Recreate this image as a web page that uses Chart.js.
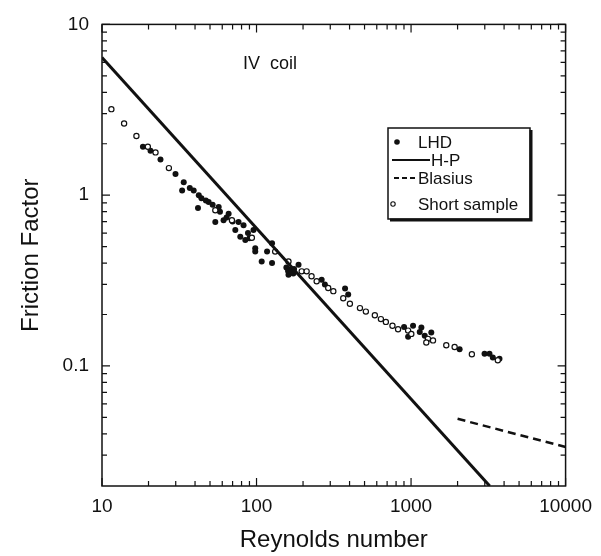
<!DOCTYPE html>
<html>
<head>
<meta charset="utf-8">
<script src="https://cdn.jsdelivr.net/npm/chart.js@4.4.0/dist/chart.umd.min.js"></script>
<style>
    html, body { margin: 0; padding: 0; background: #fff; }
    #wrap { width: 601px; height: 556px; }
</style>
</head>
<body>
<div id="wrap"><canvas id="chart" width="601" height="556"></canvas></div>
<script>
// data
const xTickLabels = [10, 100, 1000, 10000];
const yTickLabels = [0.1, 1, 10];

const lhdRe = [18.4, 20.6, 23.9, 29.9, 33.8, 33.0, 39.2, 42.3, 41.8, 49.0, 56.9, 54.1, 66.0, 61.2,
    76.5, 82.4, 72.9, 78.5, 95.6, 84.6, 98.1, 98.1, 117, 126, 108, 126, 165, 161, 187, 156, 173,
    264, 277, 374, 392, 901, 1030, 957, 1166, 1138, 1226, 1352, 2062, 2989, 3218, 3381, 3735,
    37, 44, 47, 52, 58, 64, 70, 88, 90, 160, 168, 175];
const lhdF = [1.92, 1.82, 1.62, 1.33, 1.19, 1.065, 1.065, 1.0, 0.841, 0.911, 0.852, 0.697, 0.779, 0.713,
    0.697, 0.667, 0.624, 0.571, 0.624, 0.546, 0.488, 0.467, 0.467, 0.522, 0.409, 0.400, 0.366, 0.342, 0.391, 0.377, 0.348,
    0.320, 0.300, 0.284, 0.262, 0.169, 0.172, 0.148, 0.168, 0.158, 0.150, 0.157, 0.125, 0.118, 0.118, 0.112, 0.110,
    1.10, 0.96, 0.93, 0.88, 0.80, 0.74, 0.70, 0.60, 0.56, 0.36, 0.355, 0.37];

const shortRe = [11.5, 13.9, 16.7, 19.8, 22.2, 27.1, 54.1, 69.3, 93.3, 132, 161, 196, 211, 227, 245,
    291, 314, 364, 402, 467, 510, 583, 638, 687, 758, 824, 957, 1004, 1287, 1387, 1255, 1690, 1914, 2475, 3642];
const shortF = [3.19, 2.63, 2.22, 1.92, 1.78, 1.44, 0.815, 0.713, 0.563, 0.467, 0.409, 0.358, 0.358, 0.335, 0.313,
    0.286, 0.274, 0.249, 0.231, 0.218, 0.208, 0.198, 0.188, 0.181, 0.172, 0.164, 0.161, 0.154, 0.144, 0.141, 0.137, 0.132, 0.129, 0.117, 0.108];

const hpRe = [10, 3230];
const hpF = [6.4, 0.0198];
const blasiusRe = [2000, 10000];
const blasiusF = [0.049, 0.0335];

const FONT = "'Liberation Sans', Arial, Helvetica, sans-serif";
const INK = '#111';

function pts(xs, ys) {
    return xs.map((x, i) => ({ x: x, y: ys[i] }));
}

function isPow10(v) {
    const e = Math.log10(v);
    return Math.abs(e - Math.round(e)) < 1e-6;
}

function tickLabel(list) {
    return function (value) {
        const v = Number(Number(value).toPrecision(6));
        return list.some(t => Math.abs(t - v) < 1e-9 * t) ? String(v) : '';
    };
}

// frame, inward ticks on all four sides, legend box and note
const decor = {
    id: 'decor',
    afterDraw(chart) {
        const { ctx, chartArea: a, scales } = chart;
        ctx.save();
        ctx.strokeStyle = INK;
        ctx.lineWidth = 1.5;
        ctx.strokeRect(a.left, a.top, a.right - a.left, a.bottom - a.top);

        ctx.lineWidth = 1.2;
        ctx.beginPath();
        scales.x.ticks.forEach(t => {
            const e = Math.floor(Math.log10(t.value) + 1e-9);
            const sig = t.value / Math.pow(10, e);
            if (Math.abs(sig - Math.round(sig)) > 1e-6) return;
            const px = scales.x.getPixelForValue(t.value);
            if (px < a.left - 0.5 || px > a.right + 0.5) return;
            const len = isPow10(t.value) ? 8 : 5;
            ctx.moveTo(px, a.bottom); ctx.lineTo(px, a.bottom - len);
            ctx.moveTo(px, a.top); ctx.lineTo(px, a.top + len);
        });
        scales.y.ticks.forEach(t => {
            const e = Math.floor(Math.log10(t.value) + 1e-9);
            const sig = t.value / Math.pow(10, e);
            if (Math.abs(sig - Math.round(sig)) > 1e-6) return;
            const py = scales.y.getPixelForValue(t.value);
            if (py < a.top - 0.5 || py > a.bottom + 0.5) return;
            const len = isPow10(t.value) ? 8 : 5;
            ctx.moveTo(a.left, py); ctx.lineTo(a.left + len, py);
            ctx.moveTo(a.right, py); ctx.lineTo(a.right - len, py);
        });
        ctx.stroke();

        // note
        ctx.fillStyle = INK;
        ctx.font = '18px ' + FONT;
        ctx.textAlign = 'center';
        ctx.textBaseline = 'middle';
        ctx.fillText('IV  coil', 270, 64);

        // legend
        const bx = 388, by = 128, bw = 142, bh = 91;
        ctx.fillStyle = '#fff';
        ctx.fillRect(bx, by, bw, bh);
        ctx.lineWidth = 1.5;
        ctx.strokeRect(bx, by, bw, bh);
        ctx.lineWidth = 3;
        ctx.beginPath();
        ctx.moveTo(bx + 2, by + bh + 1);
        ctx.lineTo(bx + bw + 1, by + bh + 1);
        ctx.lineTo(bx + bw + 1, by + 2);
        ctx.stroke();

        ctx.font = '17px ' + FONT;
        ctx.textAlign = 'left';
        ctx.fillStyle = INK;
        // LHD
        ctx.beginPath();
        ctx.arc(397, 142, 2.8, 0, Math.PI * 2);
        ctx.fill();
        ctx.fillText('LHD', 418, 143);
        // H-P
        ctx.lineWidth = 2;
        ctx.setLineDash([]);
        ctx.beginPath();
        ctx.moveTo(392, 160); ctx.lineTo(430, 160);
        ctx.stroke();
        ctx.fillText('H-P', 431, 161);
        // Blasius
        ctx.setLineDash([5, 3]);
        ctx.beginPath();
        ctx.moveTo(394, 178); ctx.lineTo(416, 178);
        ctx.stroke();
        ctx.setLineDash([]);
        ctx.fillText('Blasius', 418, 179);
        // Short sample
        ctx.lineWidth = 1.1;
        ctx.beginPath();
        ctx.arc(393, 204, 2.2, 0, Math.PI * 2);
        ctx.stroke();
        ctx.fillText('Short sample', 418, 205);
        ctx.restore();
    }
};

new Chart(document.getElementById('chart'), {
    type: 'scatter',
    data: {
        datasets: [
            {
                label: 'H-P',
                data: pts(hpRe, hpF),
                showLine: true,
                borderColor: INK,
                borderWidth: 3,
                pointRadius: 0
            },
            {
                label: 'Blasius',
                data: pts(blasiusRe, blasiusF),
                showLine: true,
                borderColor: INK,
                borderWidth: 2.5,
                borderDash: [8, 5],
                pointRadius: 0
            },
            {
                label: 'Short sample',
                data: pts(shortRe, shortF),
                pointRadius: 2.6,
                pointBackgroundColor: '#fff',
                pointBorderColor: INK,
                pointBorderWidth: 1.2
            },
            {
                label: 'LHD',
                data: pts(lhdRe, lhdF),
                pointRadius: 3,
                pointBackgroundColor: INK,
                pointBorderWidth: 0
            }
        ]
    },
    options: {
        responsive: false,
        animation: false,
        layout: { padding: { left: 0, top: 20, right: 34, bottom: 0 } },
        plugins: {
            legend: { display: false },
            tooltip: { enabled: false }
        },
        scales: {
            x: {
                type: 'logarithmic',
                min: 10,
                max: 10000,
                border: { display: false },
                grid: { display: false, drawTicks: false },
                afterFit(scale) { scale.height = 70; },
                ticks: {
                    autoSkip: false,
                    maxRotation: 0,
                    padding: 9,
                    color: INK,
                    font: { family: FONT, size: 19 },
                    callback: tickLabel(xTickLabels)
                },
                title: {
                    display: true,
                    text: 'Reynolds number',
                    color: INK,
                    font: { family: FONT, size: 24 },
                    padding: { top: 0, bottom: 1 }
                }
            },
            y: {
                type: 'logarithmic',
                min: 0.0198,
                max: 10,
                border: { display: false },
                grid: { display: false, drawTicks: false },
                afterFit(scale) { scale.width = 102; },
                ticks: {
                    autoSkip: false,
                    padding: 13,
                    color: INK,
                    font: { family: FONT, size: 19 },
                    callback: tickLabel(yTickLabels)
                },
                title: {
                    display: true,
                    text: 'Friction Factor',
                    color: INK,
                    font: { family: FONT, size: 24 },
                    padding: { top: 17, bottom: 0 }
                }
            }
        }
    },
    plugins: [decor]
});
</script>
</body>
</html>
